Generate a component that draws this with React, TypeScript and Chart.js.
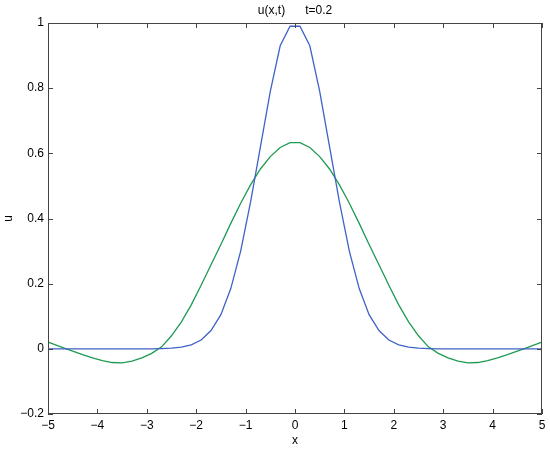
import React, { useEffect, useRef } from "react";
import { Chart, registerables } from "chart.js";

Chart.register(...registerables);

const xValues = [
  -5, -4.9, -4.7, -4.5, -4.3, -4.1, -3.9, -3.7, -3.5, -3.3, -3.1, -2.9, -2.7, -2.5, -2.3,
  -2.1, -1.9, -1.7, -1.5, -1.3, -1.1, -0.9, -0.7, -0.5, -0.3, -0.1, 0.1, 0.3, 0.5, 0.7, 0.9,
  1.1, 1.3, 1.5, 1.7, 1.9, 2.1, 2.3, 2.5, 2.7, 2.9, 3.1, 3.3, 3.5, 3.7, 3.9, 4.1, 4.3, 4.5,
  4.7, 4.9, 5,
];

const initialU = [
  0, 0, 0, 0, 0, 0, 0, 0, 0, 0, 0, 0, 0.0007, 0.002, 0.005, 0.012, 0.027, 0.056, 0.105,
  0.185, 0.3, 0.45, 0.62, 0.79, 0.93, 0.99, 0.99, 0.93, 0.79, 0.62, 0.45, 0.3, 0.185, 0.105,
  0.056, 0.027, 0.012, 0.005, 0.002, 0.0007, 0, 0, 0, 0, 0, 0, 0, 0, 0, 0, 0, 0,
];

const currentU = [
  0.021, 0.015, 0.004, -0.007, -0.018, -0.028, -0.036, -0.042, -0.043, -0.038, -0.028,
  -0.014, 0.006, 0.04, 0.083, 0.135, 0.195, 0.258, 0.32, 0.385, 0.447, 0.503, 0.552, 0.59,
  0.618, 0.633, 0.633, 0.618, 0.59, 0.552, 0.503, 0.447, 0.385, 0.32, 0.258, 0.195, 0.135,
  0.083, 0.04, 0.006, -0.014, -0.028, -0.038, -0.043, -0.042, -0.036, -0.028, -0.018,
  -0.007, 0.004, 0.015, 0.021,
];

const titleText = "u(x,t)      t=0.2";
const xLabel = "x";
const yLabel = "u";
const xTickStep = 1;
const yTickStep = 0.2;

const FONT = "'Liberation Sans', Arial, Helvetica, sans-serif";

function fmt(v: number): string {
  const n = Number(v.toFixed(1));
  const s = String(Math.abs(n));
  return n < 0 ? "\u2212" + s : s;
}

const framePlugin = {
  id: "frame",
  afterDraw(chart: any) {
    const { ctx, chartArea } = chart;
    const { left, right, top, bottom } = chartArea;
    const xs = chart.scales.x;
    const ys = chart.scales.y;
    ctx.save();
    ctx.strokeStyle = "#444";
    ctx.lineWidth = 1;
    ctx.strokeRect(left + 0.5, top + 0.5, right - left - 1, bottom - top - 1);
    const len = 5;
    ctx.beginPath();
    xs.ticks.forEach((t: any) => {
      const px = Math.round(xs.getPixelForValue(t.value)) + 0.5;
      ctx.moveTo(px, bottom);
      ctx.lineTo(px, bottom - len);
      ctx.moveTo(px, top);
      ctx.lineTo(px, top + len);
    });
    ys.ticks.forEach((t: any) => {
      const py = Math.round(ys.getPixelForValue(t.value)) + 0.5;
      ctx.moveTo(left, py);
      ctx.lineTo(left + len, py);
      ctx.moveTo(right, py);
      ctx.lineTo(right - len, py);
    });
    ctx.stroke();
    ctx.fillStyle = "#000";
    ctx.font = "12px " + FONT;
    ctx.textAlign = "center";
    ctx.textBaseline = "middle";
    ctx.fillText(titleText, (left + right) / 2, 11);
    ctx.restore();
  },
};

export default function App() {
  const ref = useRef<HTMLCanvasElement | null>(null);
  useEffect(() => {
    if (!ref.current) return;
    const chart = new Chart(ref.current, {
      type: "line",
      data: {
        datasets: [
          {
            label: "u(x,0)",
            data: xValues.map((x, i) => ({ x, y: initialU[i] })),
            borderColor: "#3f62c8",
            borderWidth: 1.3,
            pointRadius: 0,
            tension: 0,
            fill: false,
          },
          {
            label: "u(x,t)",
            data: xValues.map((x, i) => ({ x, y: currentU[i] })),
            borderColor: "#1e9a52",
            borderWidth: 1.3,
            pointRadius: 0,
            tension: 0,
            fill: false,
          },
        ],
      },
      options: {
        animation: false,
        responsive: false,
        devicePixelRatio: 1,
        layout: { padding: { top: 23, right: 8, left: 0, bottom: 0 } },
        plugins: { legend: { display: false }, tooltip: { enabled: false }, title: { display: false } },
        scales: {
          x: {
            type: "linear",
            min: -5,
            max: 5,
            ticks: {
              stepSize: xTickStep,
              color: "#000",
              font: { family: FONT, size: 12 },
              padding: 4,
              maxRotation: 0,
              callback: (v: any) => fmt(Number(v)),
            },
            grid: { display: false, drawOnChartArea: false, drawTicks: false },
            border: { display: false },
            title: {
              display: true,
              text: xLabel,
              color: "#000",
              font: { family: FONT, size: 12 },
              padding: { top: 0, bottom: 3 },
            },
            afterFit: (s: any) => {
              s.height = 37;
            },
          },
          y: {
            type: "linear",
            min: -0.2,
            max: 1,
            ticks: {
              stepSize: yTickStep,
              color: "#000",
              font: { family: FONT, size: 12 },
              padding: 4,
              callback: (v: any) => fmt(Number(v)),
            },
            grid: { display: false, drawOnChartArea: false, drawTicks: false },
            border: { display: false },
            title: {
              display: true,
              text: yLabel,
              color: "#000",
              font: { family: FONT, size: 12 },
              padding: { top: 1, bottom: 0 },
            },
            afterFit: (s: any) => {
              s.width = 48;
            },
          },
        },
      },
      plugins: [framePlugin],
    });
    return () => chart.destroy();
  }, []);
  return (
    <div style={{ position: "fixed", left: 0, top: 0, width: 550, height: 451, background: "#fff" }}>
      <canvas ref={ref} width={550} height={451} />
    </div>
  );
}
